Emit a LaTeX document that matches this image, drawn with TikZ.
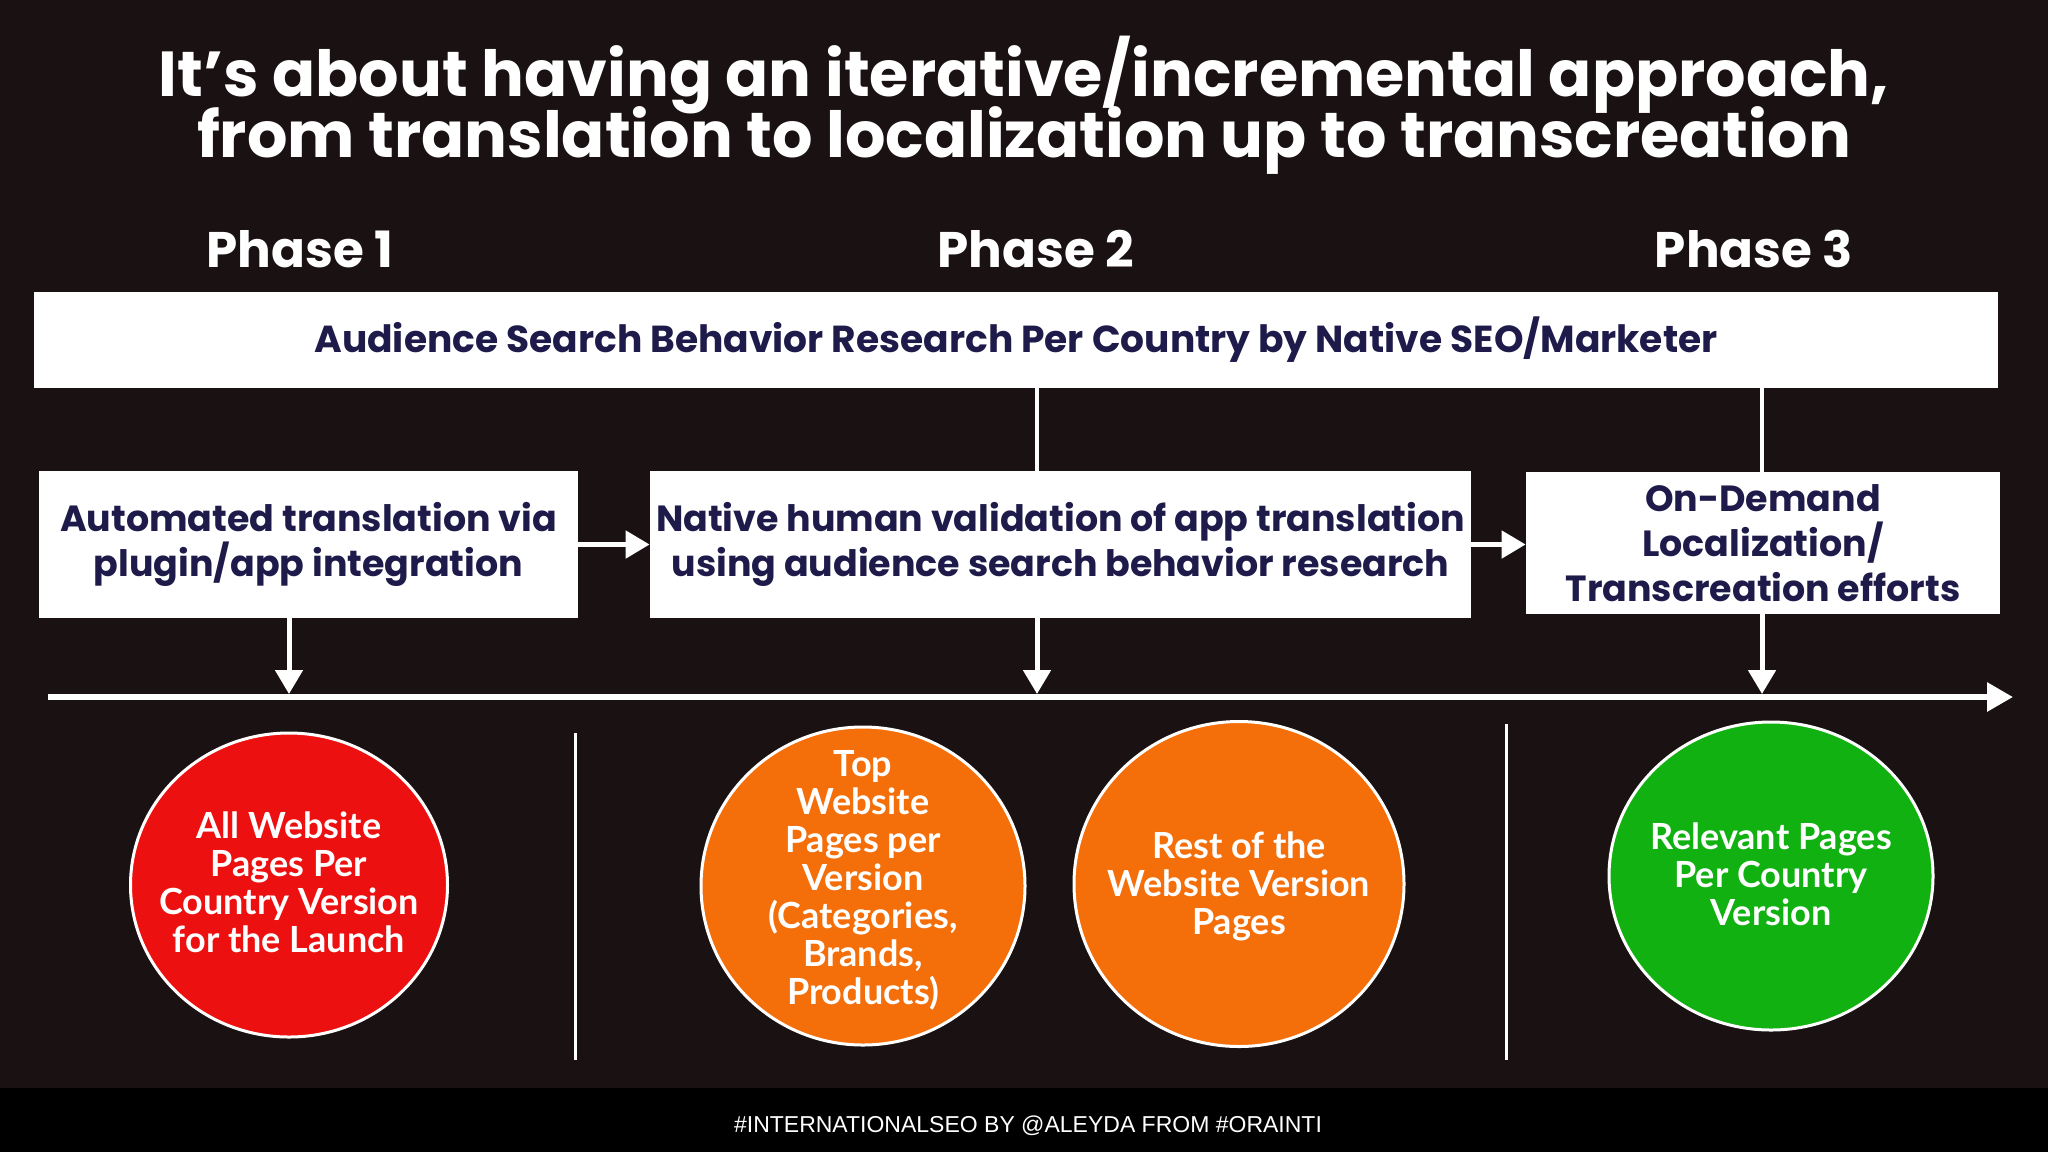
\documentclass[tikz,border=0pt]{standalone}
\usepackage{fontspec}
\setmainfont{Lato}
\newfontfamily\popfont{Poppins}
\newfontfamily\footfont{Liberation Sans}
\usetikzlibrary{arrows.meta,shapes.geometric}
\definecolor{bg}{HTML}{1A1212}
\definecolor{navy}{HTML}{1E1B4B}
\definecolor{cred}{HTML}{EC1010}
\definecolor{corange}{HTML}{F46E0A}
\definecolor{cgreen}{HTML}{12B112}
\tikzset{
  box/.style={fill=white, inner sep=0pt, align=center, text=navy,
    font=\popfont\fontsize{18.2}{22.5}\selectfont\bfseries},
  titletext/.style={text=white, anchor=base, inner sep=0pt,
    text height=0.72em, text depth=0.15em,
    font=\popfont\fontsize{31.8}{30}\selectfont\bfseries},
  phasetext/.style={text=white, anchor=base, inner sep=0pt,
    font=\popfont\fontsize{25}{28}\selectfont\bfseries},
  conn/.style={draw=white, line width=2pt},
  arr/.style={draw=white, line width=2.5pt, -{Triangle[length=12pt,width=13.5pt]}},
  mainarr/.style={draw=white, line width=3pt, -{Triangle[length=13pt,width=14pt]}},
  disc/.style={ellipse, draw=white, line width=1.5pt, inner sep=0pt},
  disctext/.style={text=white, align=center, inner sep=0pt,
    font=\fontsize{18}{19}\selectfont\bfseries},
  sepline/.style={draw=white, line width=1.5pt},
}
\begin{document}
\begin{tikzpicture}[x=0.5pt,y=-0.5pt]
\fill[bg] (0,0) rectangle (2048,1152);
\useasboundingbox (0,0) rectangle (2048,1152);
\fill[black] (0,1088) rectangle (2048,1152);

% title
\node[titletext] (t1) at (1024,96) {It’s about having an iterative/incremental approach,};
\node[titletext] (t2) at (1024,157) {from translation to localization up to transcreation};

% phases
\node[phasetext] (p1) at (300,267) {Phase 1};
\node[phasetext] (p2) at (1036,267) {Phase 2};
\node[phasetext] (p3) at (1754,267) {Phase 3};

% boxes
\node[box, minimum width=982pt, minimum height=48pt, font=\popfont\fontsize{18.8}{21.5}\selectfont\bfseries] (top) at (1016,340)
  {Audience Search Behavior Research Per Country by Native SEO/Marketer};
\node[box, minimum width=269.5pt, minimum height=73.5pt] (A) at (308.5,544.5)
  {Automated translation via\\plugin/app integration};
\node[box, minimum width=410.5pt, minimum height=73.5pt] (B) at (1060.5,544.5)
  {Native human validation of app translation\\using audience search behavior research};
\node[box, minimum width=237pt, minimum height=71pt] (C) at (1763,543)
  {On-Demand\\Localization/\\Transcreation efforts};

% connectors
\coordinate (jB) at (1037,0);
\coordinate (jC) at (1762,0);
\draw[conn] (top.south -| jB) -- (B.north -| jB);
\draw[conn] (top.south -| jC) -- (C.north -| jC);
\draw[arr] (A.east) -- (B.west);
\draw[arr] (B.east) -- (C.west |- B.east);

\coordinate (dA) at (289,694);
\coordinate (dB) at (1037,694);
\coordinate (dC) at (1762,694);
\draw[arr] (A.south -| dA) -- (dA);
\draw[arr] (B.south -| dB) -- (dB);
\draw[arr] (C.south -| dC) -- (dC);

% main timeline
\coordinate (ms) at (48,697);
\coordinate (me) at (2013,697);
\draw[mainarr] (ms) -- (me);

% separators
\coordinate (s1a) at (575,733);
\coordinate (s1b) at (575,1060);
\coordinate (s2a) at (1506,724);
\coordinate (s2b) at (1506,1060);
\draw[sepline] (s1a) -- (s1b);
\draw[sepline] (s2a) -- (s2b);

% circles
\node[disc, fill=cred, minimum width=158.5pt, minimum height=152pt] (c1) at (289,885) {};
\node[disc, fill=corange, minimum width=162pt, minimum height=159pt] (c2) at (863,886) {};
\node[disc, fill=corange, minimum width=165pt, minimum height=162.5pt] (c3) at (1239,884) {};
\node[disc, fill=cgreen, minimum width=162pt, minimum height=154pt] (c4) at (1771,876) {};

\node[disctext] (c1t) at (289,882) {All Website\\Pages Per\\Country Version\\for the Launch};
\node[disctext] (c2t) at (863,880) {Top\\Website\\Pages per\\Version\\(Categories,\\Brands,\\Products)};
\node[disctext] (c3t) at (1239,886) {Rest of the\\Website Version\\Pages};
\node[disctext] (c4t) at (1771,874) {Relevant Pages\\Per Country\\Version};

% footer
\node[text=white, anchor=base, inner sep=0pt, font=\footfont\fontsize{11.5}{14}\selectfont] (foot) at (1028,1132)
  {\#INTERNATIONALSEO BY @ALEYDA FROM \#ORAINTI};
\end{tikzpicture}
\end{document}
